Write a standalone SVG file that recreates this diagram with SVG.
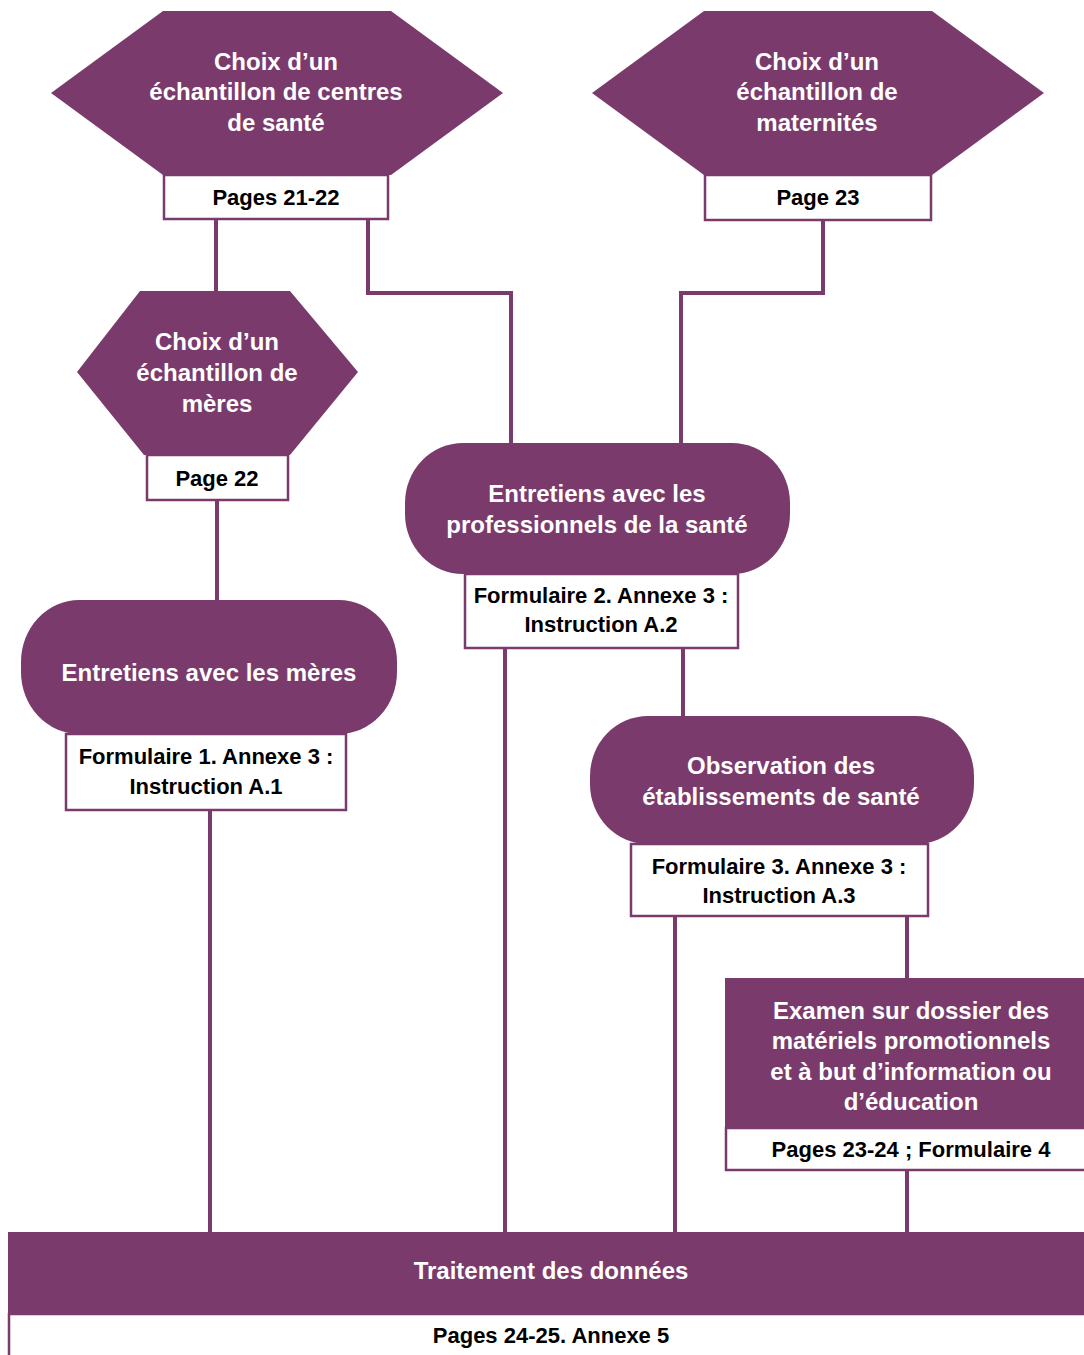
<svg xmlns="http://www.w3.org/2000/svg" width="1084" height="1355" viewBox="0 0 1084 1355">
<style>
.shape{fill:#7a3b6c}
.lbl{fill:#ffffff;stroke:#7a3b6c;stroke-width:2.5}
.conn{fill:none;stroke:#7a3b6c;stroke-width:4}
.t{font-family:"Liberation Sans",Arial,sans-serif;font-weight:bold;font-size:24px;fill:#ffffff;text-anchor:middle}
.l{font-family:"Liberation Sans",Arial,sans-serif;font-weight:bold;font-size:22px;fill:#000000;text-anchor:middle}
</style>
<rect width="1084" height="1355" fill="#ffffff"/>
<g id="connectors">
<path class="conn" d="M216 219 V292"/>
<path class="conn" d="M368 219 V293 H511 V444"/>
<path class="conn" d="M823 220 V293 H681 V444"/>
<path class="conn" d="M217 500 V601"/>
<path class="conn" d="M210 810 V1233"/>
<path class="conn" d="M505 648 V1233"/>
<path class="conn" d="M683 648 V717"/>
<path class="conn" d="M675 916 V1233"/>
<path class="conn" d="M907 916 V979"/>
<path class="conn" d="M907 1170 V1233"/>
</g>
<g id="node-centres">
<polygon class="shape" points="163,11 391,11 503,93 391,175 163,175 51,93"/>
<text class="t" x="276" y="70">Choix d’un</text>
<text class="t" x="276" y="100">échantillon de centres</text>
<text class="t" x="276" y="131">de santé</text>
<rect class="lbl" x="164" y="175" width="224" height="44"/>
<text class="l" x="276" y="205">Pages 21-22</text>
</g>
<g id="node-maternites">
<polygon class="shape" points="704,11 932,11 1044,93 932,175 704,175 592,93"/>
<text class="t" x="817" y="70">Choix d’un</text>
<text class="t" x="817" y="100">échantillon de</text>
<text class="t" x="817" y="131">maternités</text>
<rect class="lbl" x="705" y="175" width="226" height="45"/>
<text class="l" x="818" y="205">Page 23</text>
</g>
<g id="node-meres">
<polygon class="shape" points="140,291 290,291 358,372 290,455 144,455 77,372"/>
<text class="t" x="217" y="350">Choix d’un</text>
<text class="t" x="217" y="381">échantillon de</text>
<text class="t" x="217" y="412">mères</text>
<rect class="lbl" x="147" y="455" width="141" height="45"/>
<text class="l" x="217" y="486">Page 22</text>
</g>
<g id="node-entretiens-meres">
<rect class="shape" x="21" y="600" width="376" height="134" rx="58" ry="62"/>
<text class="t" x="209" y="681">Entretiens avec les mères</text>
<rect class="lbl" x="66" y="734" width="280" height="76"/>
<text class="l" x="206" y="764">Formulaire 1. Annexe 3 :</text>
<text class="l" x="206" y="794">Instruction A.1</text>
</g>
<g id="node-entretiens-pros">
<rect class="shape" x="405" y="443" width="385" height="131" rx="58" ry="60"/>
<text class="t" x="597" y="502">Entretiens avec les</text>
<text class="t" x="597" y="533">professionnels de la santé</text>
<rect class="lbl" x="465" y="574" width="273" height="74"/>
<text class="l" x="601" y="603">Formulaire 2. Annexe 3 :</text>
<text class="l" x="601" y="632">Instruction A.2</text>
</g>
<g id="node-observation">
<rect class="shape" x="590" y="716" width="384" height="128" rx="58" ry="60"/>
<text class="t" x="781" y="774">Observation des</text>
<text class="t" x="781" y="805">établissements de santé</text>
<rect class="lbl" x="631" y="844" width="297" height="72"/>
<text class="l" x="779" y="874">Formulaire 3. Annexe 3 :</text>
<text class="l" x="779" y="903">Instruction A.3</text>
</g>
<g id="node-examen">
<rect class="shape" x="725" y="978" width="365" height="150"/>
<text class="t" x="911" y="1019">Examen sur dossier des</text>
<text class="t" x="911" y="1049">matériels promotionnels</text>
<text class="t" x="911" y="1080">et à but d’information ou</text>
<text class="t" x="911" y="1110">d’éducation</text>
<rect class="lbl" x="726" y="1128" width="365" height="42"/>
<text class="l" x="911" y="1157">Pages 23-24 ; Formulaire 4</text>
</g>
<g id="node-traitement">
<rect class="shape" x="8" y="1232" width="1082" height="82"/>
<text class="t" x="551" y="1279">Traitement des données</text>
<rect class="lbl" x="9" y="1314" width="1082" height="48"/>
<text class="l" x="551" y="1343">Pages 24-25. Annexe 5</text>
</g>
</svg>
